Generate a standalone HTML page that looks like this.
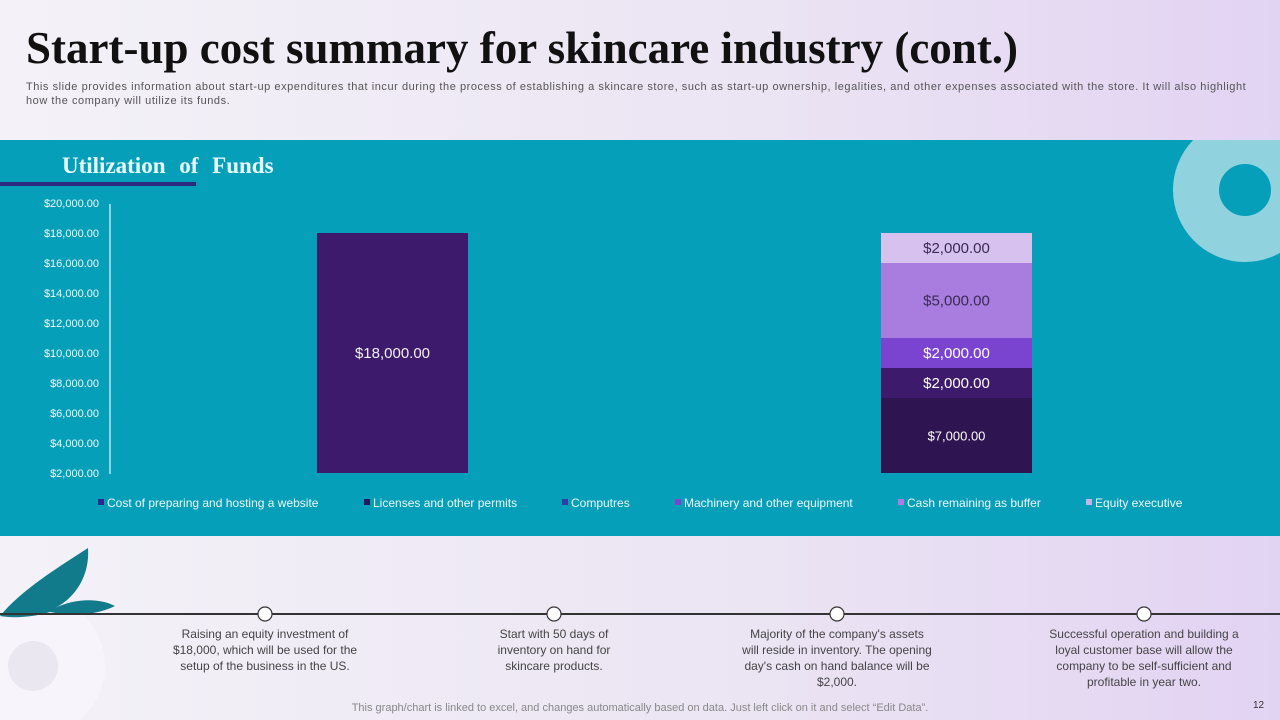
<!DOCTYPE html>
<html><head><meta charset="utf-8">
<style>
*{margin:0;padding:0;box-sizing:border-box}
body{width:1280px;height:720px;overflow:hidden;position:relative;font-family:"Liberation Sans",sans-serif;background:linear-gradient(90deg,#f4f2f8 0%,#ebe4f3 60%,#e2d3f3 100%)}
.title{position:absolute;left:26px;top:22px;font-family:"Liberation Serif",serif;font-weight:bold;font-size:45px;color:#111;white-space:nowrap}
.sub{position:absolute;left:26px;top:80px;width:1225px;font-size:11px;letter-spacing:0.55px;line-height:14px;color:#555}
.band{position:absolute;left:0;top:140px;width:1280px;height:396px;background:#059fba;overflow:hidden}
.tl-text{position:absolute;text-align:center;font-size:12px;line-height:16px;color:#444}
.foot{position:absolute;left:0;width:1280px;top:702px;text-align:center;font-size:11px;color:#888}
</style></head><body>
<div class="title">Start-up cost summary for skincare industry (cont.)</div>
<div class="sub">This slide provides information about start-up expenditures that incur during the process of establishing a skincare store, such as start-up ownership, legalities, and other expenses associated with the store. It will also highlight how the company will utilize its funds.</div>
<div class="band">
<svg width="1280" height="396" viewBox="0 140 1280 396" id="chart">
<circle cx="1245" cy="190" r="49" fill="none" stroke="#90d3df" stroke-width="46"/>
<text x="62" y="173" font-family="Liberation Serif,serif" font-weight="bold" font-size="23" word-spacing="8" fill="#e8fbff">Utilization of Funds</text>
<rect x="0" y="182" width="196" height="4" fill="#2a2a80"/>
<line x1="110" y1="204" x2="110" y2="474" stroke="#e8f6f8" stroke-width="1.2"/>
<g id="ticks"></g><g id="bars"></g><g id="legend"></g>
</svg>
</div>
<svg style="position:absolute;left:0;top:536px" width="1280" height="184">
<circle cx="35" cy="130" r="70" fill="#f7f5fb"/>
<circle cx="33" cy="130" r="25" fill="#ebe7f1"/>
<path d="M0,80 C20,55 60,30 88,12 C90,40 75,62 55,72 C75,62 100,62 115,70 C95,80 70,80 50,76 C30,82 12,82 0,80Z" fill="#117a8b"/>
<line x1="0" y1="78" x2="1280" y2="78" stroke="#333" stroke-width="2"/>
<circle cx="265" cy="78" r="7" fill="#fff" stroke="#333" stroke-width="1.2"/>
<circle cx="554" cy="78" r="7" fill="#fff" stroke="#333" stroke-width="1.2"/>
<circle cx="837" cy="78" r="7" fill="#fff" stroke="#333" stroke-width="1.2"/>
<circle cx="1144" cy="78" r="7" fill="#fff" stroke="#333" stroke-width="1.2"/>
</svg>
<div class="tl-text" style="left:160px;top:626px;width:210px">Raising an equity investment of $18,000, which will be used for the setup of the business in the US.</div>
<div class="tl-text" style="left:484px;top:626px;width:140px">Start with 50 days of inventory on hand for skincare products.</div>
<div class="tl-text" style="left:742px;top:626px;width:190px">Majority of the company's assets will reside in inventory.  The opening day's cash on hand balance will be $2,000.</div>
<div class="tl-text" style="left:1036px;top:626px;width:216px">Successful operation and building a loyal customer base will allow the company to be self-sufficient and profitable in year two.</div>
<div class="foot">This graph/chart is linked to excel,  and changes automatically based on data. Just left click on it and select “Edit Data”.</div>
<div style="position:absolute;left:1253px;top:700px;font-size:10px;color:#333">12</div>
<script>
const ticks=[2000,4000,6000,8000,10000,12000,14000,16000,18000,20000];
const categories=["Equity","Utilization"];
const equityValues=[18000];
const stackValues=[7000,2000,2000,5000,2000];
const stackLabels=["$7,000.00","$2,000.00","$2,000.00","$5,000.00","$2,000.00"];
const seriesNames=["Cost of preparing and hosting a website","Licenses and other permits","Computres","Machinery and other equipment","Cash remaining as buffer","Equity executive"];
const NS="http://www.w3.org/2000/svg";
const yMin=2000,yMax=20000,y0=473,y1=203;
function y(v){return y0-(Math.max(v,yMin)-yMin)/(yMax-yMin)*(y0-y1);}
const catX=[317,881],bw=151;
function el(t,a,p){const e=document.createElementNS(NS,t);for(const k in a)e.setAttribute(k,a[k]);p.appendChild(e);return e;}
const tg=document.getElementById('ticks'),bg=document.getElementById('bars'),lg=document.getElementById('legend');
ticks.forEach(v=>{const t=el('text',{x:99,y:y(v)+4,'text-anchor':'end','font-size':11,fill:'#eef9fb'},tg);


t.textContent='$'+v.toLocaleString('en-US')+'.00';});
const r=el('rect',{x:catX[0],y:y(equityValues[0]),width:bw,height:y(yMin)-y(equityValues[0]),fill:'#3d1a6b'},bg);


const lt=el('text',{x:catX[0]+bw/2,y:(y(equityValues[0])+y0)/2+5,'text-anchor':'middle','font-size':15,fill:'#f2f2f2'},bg);


lt.textContent='$'+equityValues[0].toLocaleString('en-US')+'.00';
const segColors=['#2e1450','#3d1a6b','#7b44d0','#a87ddf','#d6c1ef'];
const labColors=['#fff','#fff','#fff','#3a2a55','#3a2a55'];
let cum=0;
stackValues.forEach((v,i)=>{const a=y(cum),b=y(cum+v);cum+=v;
const s=el('rect',{x:catX[1],y:b,width:bw,height:a-b,fill:segColors[i]},bg);


const t=el('text',{x:catX[1]+bw/2,y:(a+b)/2+5,'text-anchor':'middle','font-size':i==0?13:15,fill:labColors[i]},bg);


t.textContent=stackLabels[i];});
const legX=[98,364,562,675,898,1086],legC=['#2b2b8c','#1e1e5e','#2d3fa0','#7b44d0','#a87ddf','#c2b3e8'];
seriesNames.forEach((n,i)=>{const m=el('rect',{x:legX[i],y:499,width:6,height:6,fill:legC[i]},lg);


const t=el('text',{x:legX[i]+9,y:507,'font-size':12,fill:'#eef9fb'},lg);


t.textContent=n;});
</script>
</body></html>
